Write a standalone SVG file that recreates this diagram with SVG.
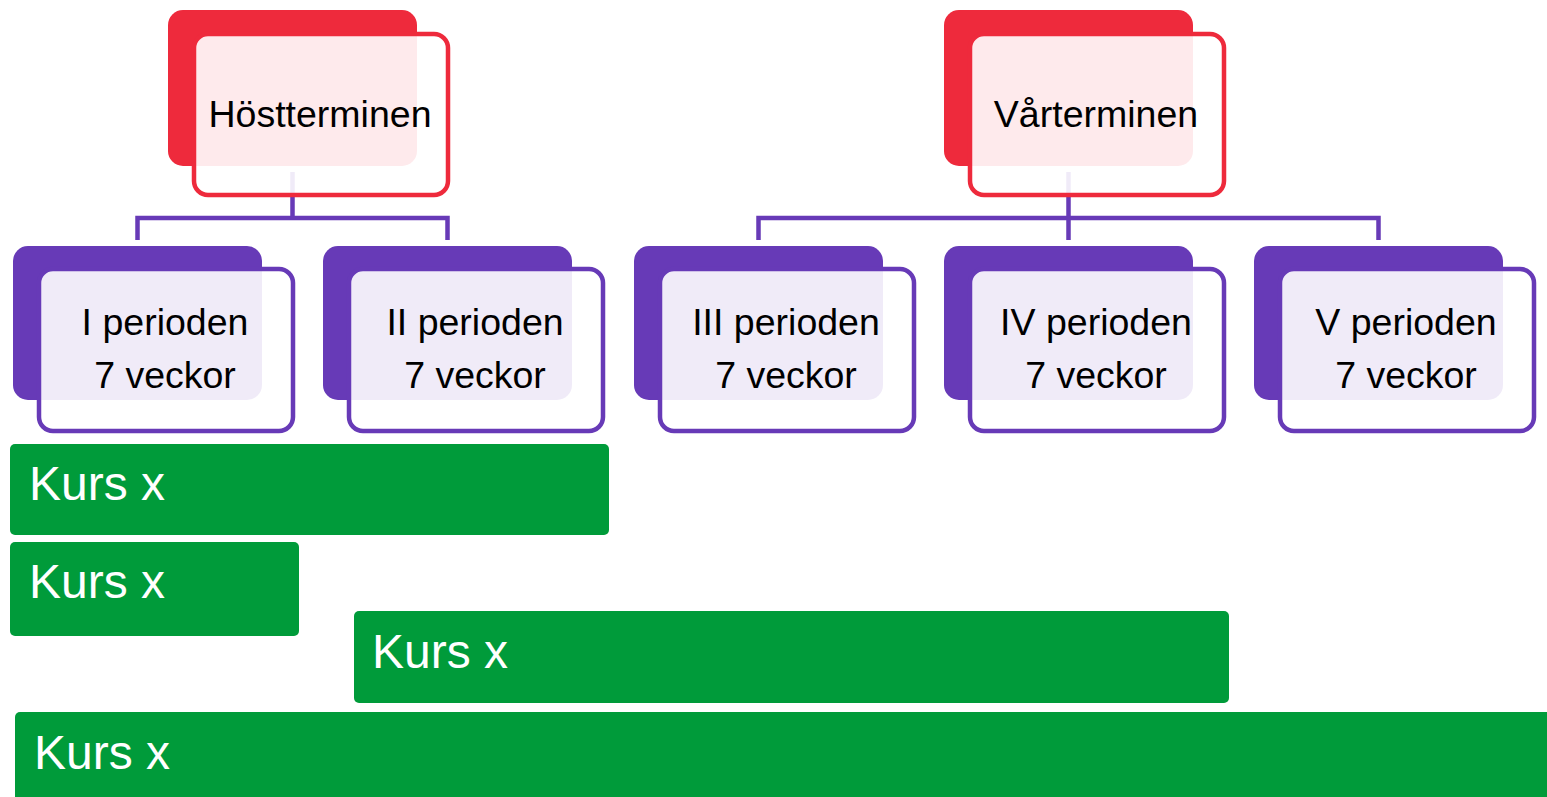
<svg xmlns="http://www.w3.org/2000/svg" width="1547" height="797" viewBox="0 0 1547 797">
<style>
.bg{fill:#fff}
.backR{fill:#EE2A3C}
.backP{fill:#673AB7}
.frontR{fill:#fff;fill-opacity:0.9;stroke:#EE2A3C;stroke-width:4.5}
.frontP{fill:#fff;fill-opacity:0.9;stroke:#673AB7;stroke-width:4.5}
.conn{fill:none;stroke:#673AB7;stroke-width:4.5;stroke-linejoin:miter}
.lbl{font-family:"Liberation Sans",Arial,sans-serif;fill:#000;text-anchor:middle;font-size:37.5px}
.kurs{fill:#009B3A}
.kt{font-family:"Liberation Sans",Arial,sans-serif;fill:#fff;font-size:48px}
</style>
<rect class="bg" x="0" y="0" width="1547" height="797"/>
<g id="connectors">
<path class="conn" d="M292.5 172 V218 M137.5 240 V218 H447.5 V240"/>
<path class="conn" d="M1068.5 172 V240 M758.5 240 V218 H1378.5 V240"/>
</g>
<g id="hostterminen">
<rect class="backR" x="168" y="10" width="249" height="156" rx="15"/>
<rect class="frontR" x="194" y="34" width="254" height="161" rx="14"/>
<text class="lbl" x="320" y="127">Höstterminen</text>
</g>
<g id="varterminen">
<rect class="backR" x="944" y="10" width="249" height="156" rx="15"/>
<rect class="frontR" x="970" y="34" width="254" height="161" rx="14"/>
<text class="lbl" x="1096" y="127">Vårterminen</text>
</g>
<g id="period1">
<rect class="backP" x="13" y="246" width="249" height="154" rx="15"/>
<rect class="frontP" x="39" y="269" width="254" height="162" rx="14"/>
<text class="lbl" x="165" y="335">I perioden</text>
<text class="lbl" x="165" y="388">7 veckor</text>
</g>
<g id="period2">
<rect class="backP" x="323" y="246" width="249" height="154" rx="15"/>
<rect class="frontP" x="349" y="269" width="254" height="162" rx="14"/>
<text class="lbl" x="475" y="335">II perioden</text>
<text class="lbl" x="475" y="388">7 veckor</text>
</g>
<g id="period3">
<rect class="backP" x="634" y="246" width="249" height="154" rx="15"/>
<rect class="frontP" x="660" y="269" width="254" height="162" rx="14"/>
<text class="lbl" x="786" y="335">III perioden</text>
<text class="lbl" x="786" y="388">7 veckor</text>
</g>
<g id="period4">
<rect class="backP" x="944" y="246" width="249" height="154" rx="15"/>
<rect class="frontP" x="970" y="269" width="254" height="162" rx="14"/>
<text class="lbl" x="1096" y="335">IV perioden</text>
<text class="lbl" x="1096" y="388">7 veckor</text>
</g>
<g id="period5">
<rect class="backP" x="1254" y="246" width="249" height="154" rx="15"/>
<rect class="frontP" x="1280" y="269" width="254" height="162" rx="14"/>
<text class="lbl" x="1406" y="335">V perioden</text>
<text class="lbl" x="1406" y="388">7 veckor</text>
</g>
<g id="kurs1">
<rect class="kurs" x="10" y="444" width="599" height="91" rx="5"/>
<text class="kt" x="29" y="500">Kurs x</text>
</g>
<g id="kurs2">
<rect class="kurs" x="10" y="542" width="289" height="94" rx="5"/>
<text class="kt" x="29" y="598">Kurs x</text>
</g>
<g id="kurs3">
<rect class="kurs" x="354" y="611" width="875" height="92" rx="5"/>
<text class="kt" x="372" y="668">Kurs x</text>
</g>
<g id="kurs4">
<rect class="kurs" x="15" y="712" width="1540" height="95" rx="5"/>
<text class="kt" x="34" y="769">Kurs x</text>
</g>
</svg>
